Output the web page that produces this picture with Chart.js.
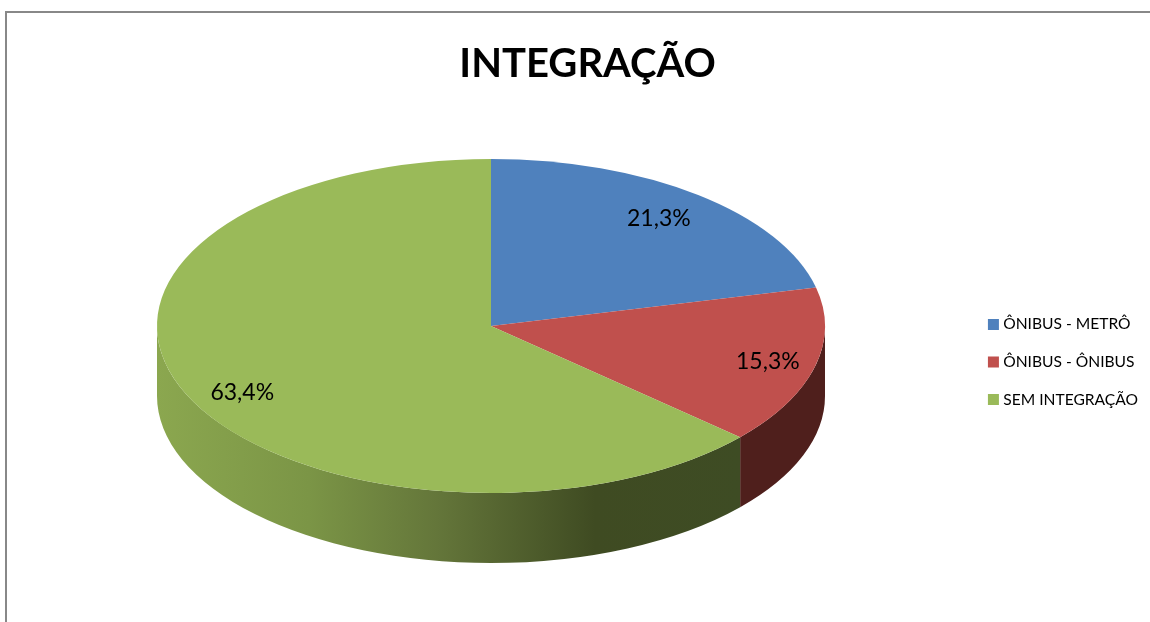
<!DOCTYPE html>
<html>
<head>
<meta charset="utf-8">
<style>html,body{margin:0;padding:0;background:#fff;overflow:hidden}#w{width:1150px;height:622px}</style>
<script src="https://cdn.jsdelivr.net/npm/chart.js@4"></script>
</head>
<body>
<div id="w"><canvas id="c" width="1150" height="622"></canvas></div>
<script>
const titleText = 'INTEGRAÇÃO';
const categories = ['ÔNIBUS - METRÔ', 'ÔNIBUS - ÔNIBUS', 'SEM INTEGRAÇÃO'];
const shares = [21.3, 15.3, 63.4];
const topColors = ['#4f81bd', '#c0504d', '#9aba59'];

// Projection of the round pie on the tilted plane
const PIE = {cx: 491, cy: 326, sx: 2, sy: 1, depth: 70};
const labelReach = [{x: .81, y: .82}, {x: .855, y: .86}, {x: .816, y: .97}];
const LEGEND_SHIFT = 51;

const pie3d = {
  id: 'pie3d',
  afterLayout(chart) {
    chart.legend.top += LEGEND_SHIFT;
    chart.legend.bottom += LEGEND_SHIFT;
  },
  beforeDraw(chart) {
    const c = chart.ctx;
    c.save();
    c.fillStyle = '#fff';
    c.fillRect(0, 0, chart.width, chart.height);
    c.fillStyle = '#888888';
    c.fillRect(5, 11, chart.width - 5, 2);
    c.fillRect(5, 11, 2, chart.height - 11);
    c.restore();
  },
  beforeDatasetsDraw(chart) {
    const c = chart.ctx;
    const arcs = chart.getDatasetMeta(0).data;
    const g = c.createLinearGradient(157, 0, 741, 0);
    g.addColorStop(0, '#8ba74f');
    g.addColorStop(0.26, '#7b9546');
    g.addColorStop(0.48, '#64763a');
    g.addColorStop(0.75, '#3f4b22');
    g.addColorStop(1, '#3e4c24');
    const fills = [null, '#4f1f1c', g];
    c.save();
    arcs.forEach((el, i) => {
      const a = Math.max(el.startAngle, 0), b = Math.min(el.endAngle, Math.PI);
      if (b <= a) return;
      const rx = el.outerRadius * PIE.sx, ry = el.outerRadius * PIE.sy;
      c.beginPath();
      c.ellipse(PIE.cx, PIE.cy, rx, ry, 0, a, b);
      c.ellipse(PIE.cx, PIE.cy + PIE.depth, rx, ry, 0, b, a, true);
      c.closePath();
      c.fillStyle = fills[i];
      c.fill();
    });
    c.restore();
    const el = arcs[0];
    c.save();
    c.translate(PIE.cx, PIE.cy);
    c.scale(PIE.sx, PIE.sy);
    c.translate(-el.x, -el.y);
  },
  afterDatasetsDraw(chart) {
    const c = chart.ctx;
    c.restore();
    const arcs = chart.getDatasetMeta(0).data;
    c.save();
    c.font = '23px Lato';
    c.fillStyle = '#000';
    c.textAlign = 'center';
    c.textBaseline = 'middle';
    arcs.forEach((el, i) => {
      const m = (el.startAngle + el.endAngle) / 2;
      const x = PIE.cx + Math.cos(m) * el.outerRadius * PIE.sx * labelReach[i].x;
      const y = PIE.cy + Math.sin(m) * el.outerRadius * PIE.sy * labelReach[i].y;
      c.fillText(shares[i].toFixed(1).replace('.', ',') + '%', x, y);
    });
    c.restore();
  }
};

new Chart(document.getElementById('c'), {
  type: 'pie',
  data: {
    labels: categories,
    datasets: [{data: shares, backgroundColor: topColors, borderWidth: 0, clip: false, radius: 167, pointStyle: 'rect'}]
  },
  options: {
    responsive: false,
    animation: false,
    layout: {padding: {left: 27, right: 2, top: 0, bottom: 0}},
    plugins: {
      tooltip: {enabled: false},
      title: {
        display: true,
        text: titleText,
        color: '#000',
        font: {family: 'Lato', size: 40, weight: 'bold', lineHeight: 1.2},
        padding: {top: 40, bottom: 12}
      },
      legend: {
        position: 'right',
        labels: {
          color: '#000',
          usePointStyle: true,
          pointStyle: 'rect',
          boxWidth: 4,
          boxHeight: 11,
          padding: 22,
          font: {family: 'Lato', size: 15.6}
        }
      }
    }
  },
  plugins: [pie3d]
});
</script>
</body>
</html>
